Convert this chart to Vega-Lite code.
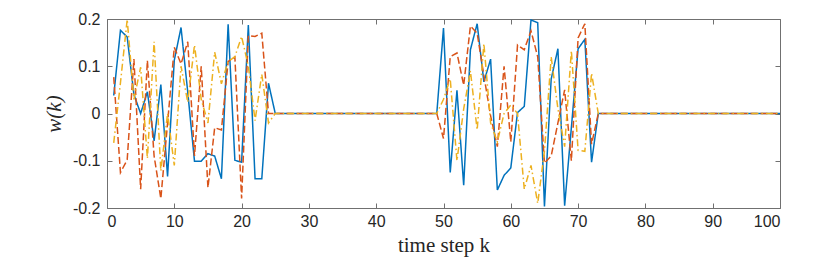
{
  "$schema": "https://vega.github.io/schema/vega-lite/v6.json",
  "width": 673,
  "height": 189,
  "autosize": {"type": "none"},
  "padding": {"left": 107, "top": 19, "right": 50, "bottom": 51},
  "background": "white",
  "config": {
    "view": {"stroke": "#707070", "strokeWidth": 1},
    "axis": {"labelFont": "Liberation Sans", "labelFontSize": 16, "labelColor": "#262626", "tickColor": "#707070", "domain": false, "grid": false, "titleFont": "Liberation Serif", "titleFontSize": 21, "titleFontWeight": "normal", "titleColor": "#262626"}
  },
  "data": {"values": [
    {"k":1,"a":0.038,"b":0.077,"c":-0.062},
    {"k":2,"a":0.176,"b":-0.125,"c":0.065},
    {"k":3,"a":0.162,"b":-0.098,"c":0.199},
    {"k":4,"a":0.040,"b":0.115,"c":0.03},
    {"k":5,"a":0.0,"b":-0.16,"c":0.098},
    {"k":6,"a":0.046,"b":0.112,"c":-0.095},
    {"k":7,"a":-0.058,"b":-0.09,"c":0.152},
    {"k":8,"a":0.061,"b":-0.18,"c":-0.122},
    {"k":9,"a":-0.133,"b":-0.02,"c":0.0},
    {"k":10,"a":0.113,"b":0.14,"c":-0.11},
    {"k":11,"a":0.182,"b":0.105,"c":0.1},
    {"k":12,"a":0.045,"b":0.152,"c":0.024},
    {"k":13,"a":-0.101,"b":-0.09,"c":0.145},
    {"k":14,"a":-0.101,"b":0.1,"c":0.03},
    {"k":15,"a":-0.085,"b":-0.157,"c":-0.02},
    {"k":16,"a":-0.09,"b":-0.03,"c":0.13},
    {"k":17,"a":-0.138,"b":-0.035,"c":0.063},
    {"k":18,"a":0.189,"b":0.11,"c":0.11},
    {"k":19,"a":-0.099,"b":0.12,"c":0.12},
    {"k":20,"a":-0.103,"b":-0.18,"c":0.163},
    {"k":21,"a":0.187,"b":0.165,"c":0.1},
    {"k":22,"a":-0.138,"b":0.163,"c":-0.015},
    {"k":23,"a":-0.138,"b":0.17,"c":0.083},
    {"k":24,"a":0.064,"b":0.0,"c":-0.02},
    {"k":25,"a":0,"b":0,"c":0},
    {"k":26,"a":0,"b":0,"c":0},{"k":27,"a":0,"b":0,"c":0},{"k":28,"a":0,"b":0,"c":0},{"k":29,"a":0,"b":0,"c":0},{"k":30,"a":0,"b":0,"c":0},
    {"k":31,"a":0,"b":0,"c":0},{"k":32,"a":0,"b":0,"c":0},{"k":33,"a":0,"b":0,"c":0},{"k":34,"a":0,"b":0,"c":0},{"k":35,"a":0,"b":0,"c":0},
    {"k":36,"a":0,"b":0,"c":0},{"k":37,"a":0,"b":0,"c":0},{"k":38,"a":0,"b":0,"c":0},{"k":39,"a":0,"b":0,"c":0},{"k":40,"a":0,"b":0,"c":0},
    {"k":41,"a":0,"b":0,"c":0},{"k":42,"a":0,"b":0,"c":0},{"k":43,"a":0,"b":0,"c":0},{"k":44,"a":0,"b":0,"c":0},{"k":45,"a":0,"b":0,"c":0},
    {"k":46,"a":0,"b":0,"c":0},{"k":47,"a":0,"b":0,"c":0},{"k":48,"a":0,"b":0,"c":0},{"k":49,"a":0,"b":0,"c":0},
    {"k":50,"a":0.181,"b":-0.053,"c":0.03},
    {"k":51,"a":-0.125,"b":0.12,"c":0.073},
    {"k":52,"a":0.049,"b":0.128,"c":-0.1},
    {"k":53,"a":-0.152,"b":0.06,"c":0.01},
    {"k":54,"a":0.135,"b":0.185,"c":0.09},
    {"k":55,"a":0.19,"b":0.17,"c":-0.035},
    {"k":56,"a":0.067,"b":0.08,"c":0.148},
    {"k":57,"a":0.115,"b":-0.005,"c":-0.02},
    {"k":58,"a":-0.162,"b":-0.07,"c":-0.06},
    {"k":59,"a":-0.131,"b":0.1,"c":0.0},
    {"k":60,"a":-0.115,"b":-0.06,"c":0.018},
    {"k":61,"a":0.002,"b":0.145,"c":0.0},
    {"k":62,"a":0.015,"b":0.135,"c":-0.16},
    {"k":63,"a":0.198,"b":0.175,"c":-0.11},
    {"k":64,"a":0.192,"b":0.12,"c":-0.19},
    {"k":65,"a":-0.197,"b":-0.105,"c":-0.08},
    {"k":66,"a":0.073,"b":-0.09,"c":0.12},
    {"k":67,"a":0.137,"b":-0.02,"c":0.01},
    {"k":68,"a":-0.195,"b":0.05,"c":-0.07},
    {"k":69,"a":-0.03,"b":-0.1,"c":0.133},
    {"k":70,"a":0.137,"b":0.16,"c":-0.078},
    {"k":71,"a":0.157,"b":0.19,"c":-0.08},
    {"k":72,"a":-0.103,"b":-0.065,"c":0.085},
    {"k":73,"a":0,"b":0,"c":0},{"k":74,"a":0,"b":0,"c":0},{"k":75,"a":0,"b":0,"c":0},
    {"k":76,"a":0,"b":0,"c":0},{"k":77,"a":0,"b":0,"c":0},{"k":78,"a":0,"b":0,"c":0},{"k":79,"a":0,"b":0,"c":0},{"k":80,"a":0,"b":0,"c":0},
    {"k":81,"a":0,"b":0,"c":0},{"k":82,"a":0,"b":0,"c":0},{"k":83,"a":0,"b":0,"c":0},{"k":84,"a":0,"b":0,"c":0},{"k":85,"a":0,"b":0,"c":0},
    {"k":86,"a":0,"b":0,"c":0},{"k":87,"a":0,"b":0,"c":0},{"k":88,"a":0,"b":0,"c":0},{"k":89,"a":0,"b":0,"c":0},{"k":90,"a":0,"b":0,"c":0},
    {"k":91,"a":0,"b":0,"c":0},{"k":92,"a":0,"b":0,"c":0},{"k":93,"a":0,"b":0,"c":0},{"k":94,"a":0,"b":0,"c":0},{"k":95,"a":0,"b":0,"c":0},
    {"k":96,"a":0,"b":0,"c":0},{"k":97,"a":0,"b":0,"c":0},{"k":98,"a":0,"b":0,"c":0},{"k":99,"a":0,"b":0,"c":0},{"k":100,"a":0,"b":0,"c":0}
  ]},
  "transform": [{"fold": ["a", "b", "c"], "as": ["series", "w"]}],
  "layer": [
    {
      "mark": {"type": "line", "strokeWidth": 1.5, "clip": true},
      "encoding": {
        "x": {"field": "k", "type": "quantitative", "scale": {"domain": [0, 100], "nice": false},
              "axis": {"orient": "bottom", "values": [0,10,20,30,40,50,60,70,80,90,100], "tickSize": -5, "labelPadding": 10, "title": "time step k", "titlePadding": 5}},
        "y": {"field": "w", "type": "quantitative", "scale": {"domain": [-0.2, 0.2], "nice": false, "zero": false},
              "axis": {"orient": "left", "values": [-0.2,-0.1,0,0.1,0.2], "labelExpr": "'' + datum.value", "tickSize": -5, "labelPadding": 12, "title": "w(k)", "titleFontStyle": "italic", "titlePadding": 8}},
        "color": {"field": "series", "type": "nominal", "scale": {"domain": ["a","b","c"], "range": ["#0072BD", "#D95319", "#EDB120"]}, "legend": null},
        "strokeDash": {"field": "series", "type": "nominal", "scale": {"domain": ["a","b","c"], "range": [[1,0],[7,3],[7,3,1.5,3]]}, "legend": null}
      }
    },
    {
      "mark": {"type": "line", "strokeOpacity": 0, "clip": true},
      "encoding": {
        "x": {"field": "k", "type": "quantitative", "axis": {"orient": "top", "values": [0,10,20,30,40,50,60,70,80,90,100], "tickSize": -5, "labels": false, "title": null}},
        "y": {"field": "w", "type": "quantitative", "axis": {"orient": "right", "values": [-0.2,-0.1,0,0.1,0.2], "tickSize": -5, "labels": false, "title": null}},
        "detail": {"field": "series"}
      }
    }
  ],
  "resolve": {"axis": {"x": "independent", "y": "independent"}}
}
